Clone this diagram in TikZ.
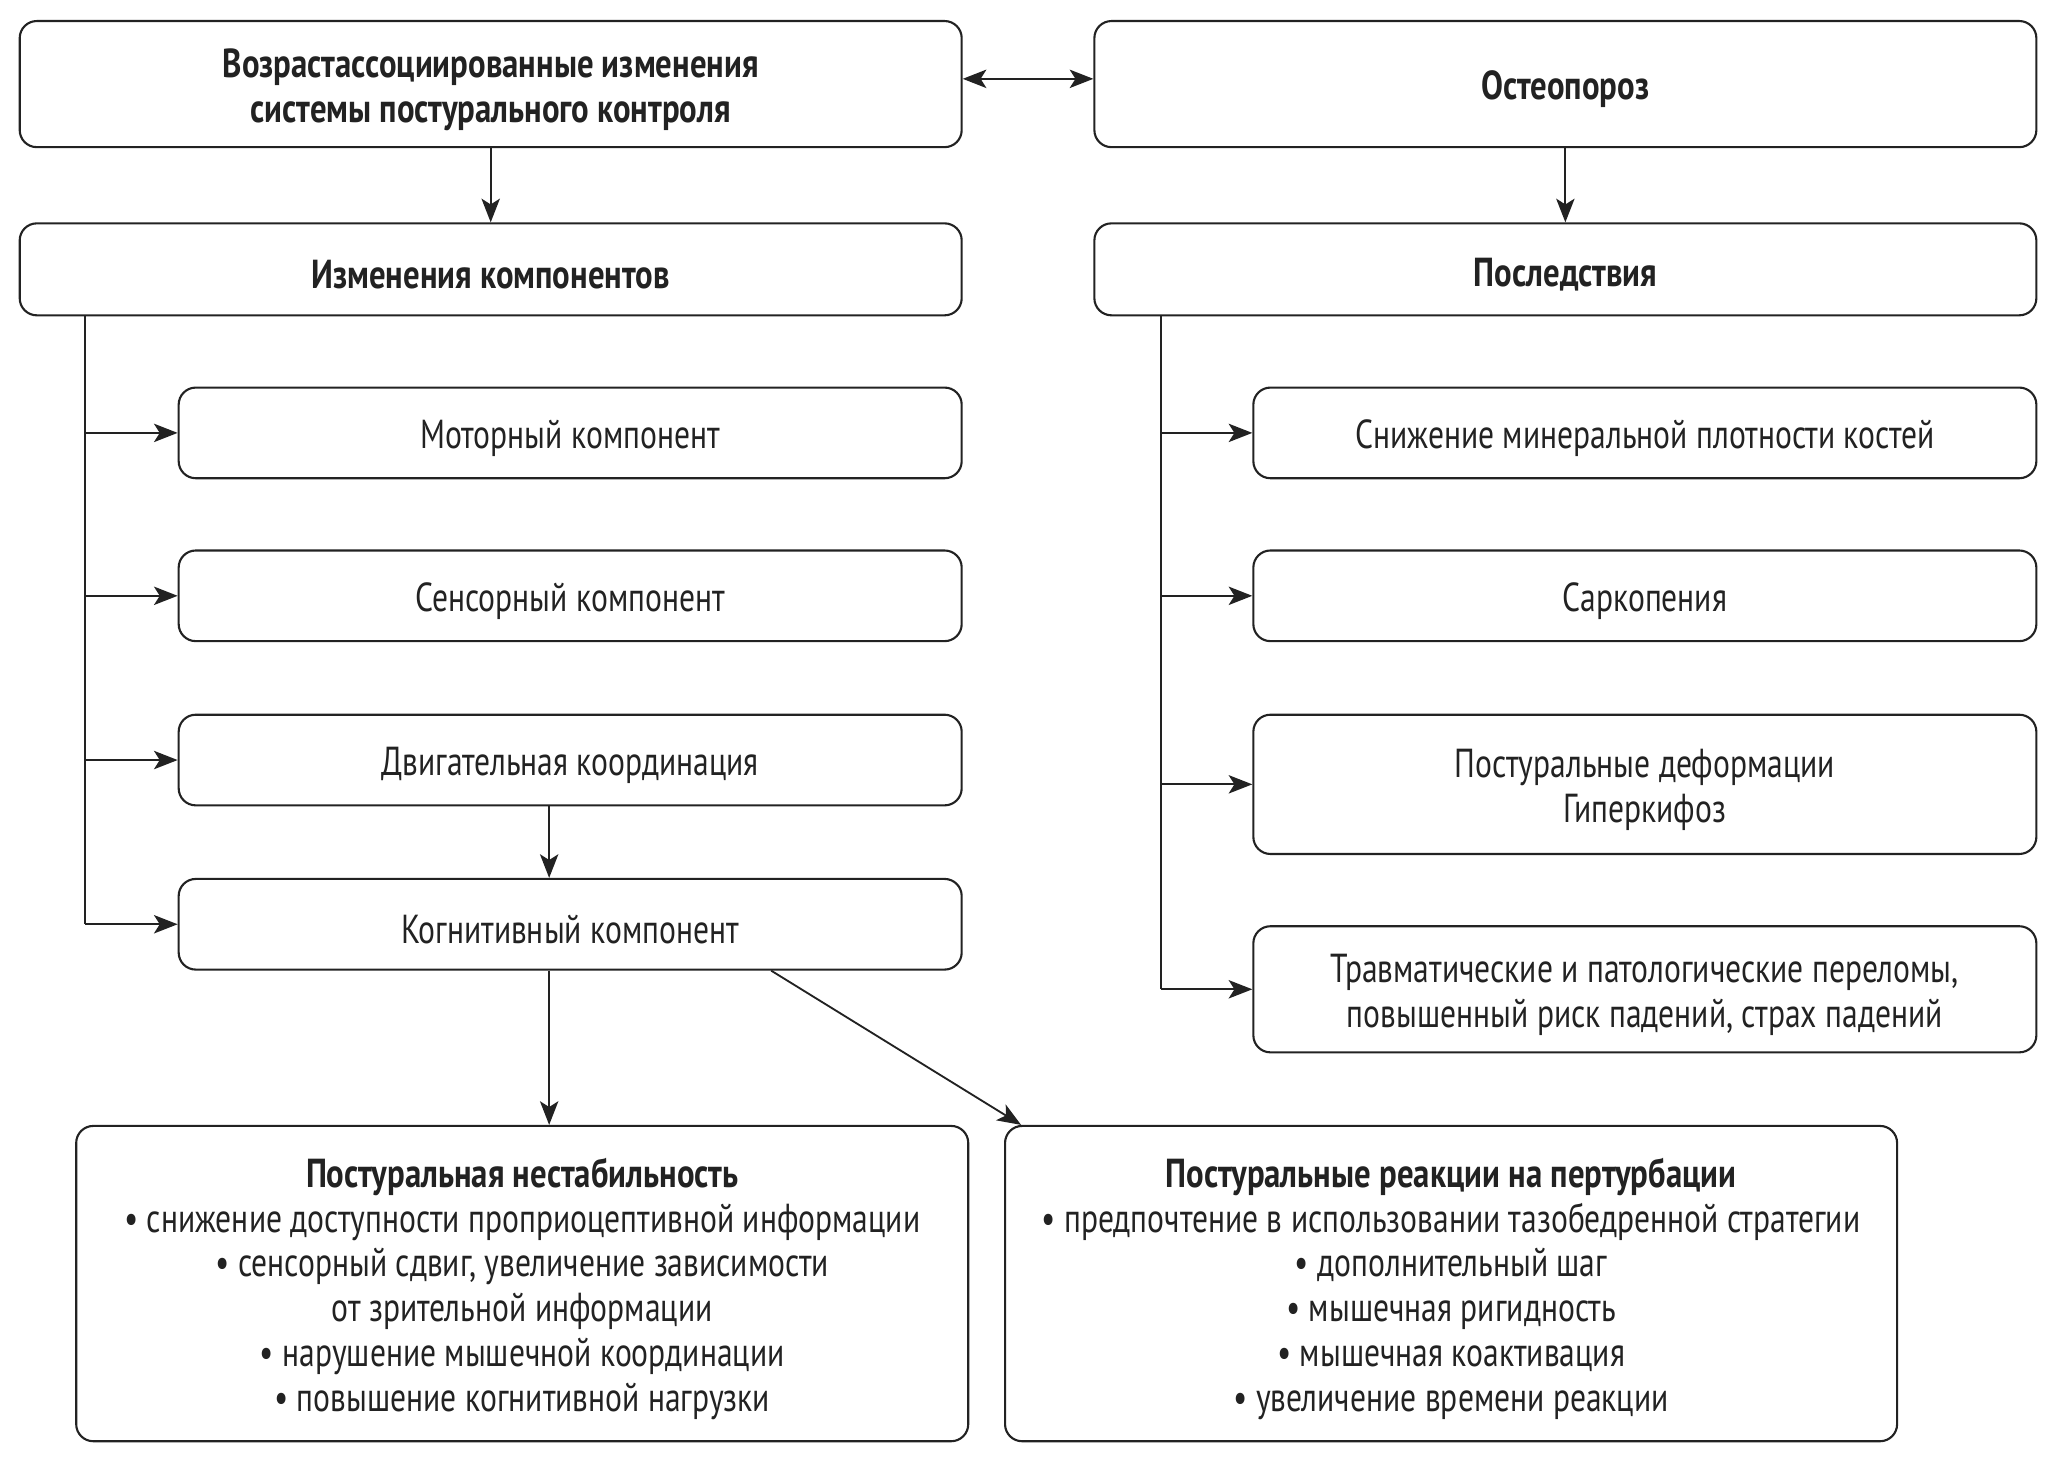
\documentclass[tikz,border=0pt]{standalone}
\usepackage{fontspec}
\setmainfont{PT Sans}[FakeStretch=0.78]
\newfontfamily\headfont{PT Sans}[FakeStretch=0.81]
\usetikzlibrary{arrows.meta,calc}
\definecolor{ink}{HTML}{222222}
\tikzset{
  box/.style={draw=ink, line width=0.8pt, rounded corners=6.5pt, inner sep=0pt},
  txt/.style={align=center, text=ink, inner sep=0pt, font=\fontsize{15.4}{17.1}\selectfont},
  btxt/.style={txt, font=\fontsize{15.4}{17.1}\selectfont\headfont\bfseries},
  wide/.style={minimum width=358.5pt},
  mid/.style={minimum width=298pt},
  big/.style={minimum width=339.5pt, minimum height=120pt},
  conn/.style={draw=ink, line width=0.7pt},
  tip/.tip={Stealth[length=9pt,width=7pt,inset=2.2pt]},
  arr/.style={conn, -tip},
  darr/.style={conn, tip-tip}
}
\begin{document}
\begin{tikzpicture}[x=0.5pt,y=-0.5pt]
\useasboundingbox[fill=white] (0,0) rectangle (1568,1116);
\node[box, wide, minimum height=48pt] (A) at (373.5,64) {};
\node[btxt] (A-t) at ([yshift=-2pt]A.center) {Возрастассоциированные изменения\\системы постурального контроля};
\node[box, wide, minimum height=48pt] (B) at (1191.5,64) {};
\node[btxt] (B-t) at ([yshift=-2pt]B.center) {Остеопороз};
\node[box, wide, minimum height=35pt] (C) at (373.5,205) {};
\node[btxt] (C-t) at ([yshift=-2pt]C.center) {Изменения компонентов};
\node[box, wide, minimum height=35pt] (D) at (1191.5,205) {};
\node[btxt] (D-t) at ([yshift=-2pt]D.center) {Последствия};

\node[box, mid, minimum height=34.5pt] (E1) at (434,329.5) {};
\node[txt] (E1-t) at ([yshift=-2pt]E1.center) {Моторный компонент};
\node[box, mid, minimum height=34.5pt] (E2) at (434,453.5) {};
\node[txt] (E2-t) at ([yshift=-2pt]E2.center) {Сенсорный компонент};
\node[box, mid, minimum height=34.5pt] (E3) at (434,578.5) {};
\node[txt] (E3-t) at ([yshift=-2pt]E3.center) {Двигательная координация};
\node[box, mid, minimum height=34.5pt] (E4) at (434,703.5) {};
\node[txt] (E4-t) at ([yshift=-2pt]E4.center) {Когнитивный компонент};

\node[box, mid, minimum height=34.5pt] (R1) at (1252,329.5) {};
\node[txt] (R1-t) at ([yshift=-2pt]R1.center) {Снижение минеральной плотности костей};
\node[box, mid, minimum height=34.5pt] (R2) at (1252,453.5) {};
\node[txt] (R2-t) at ([yshift=-2pt]R2.center) {Саркопения};
\node[box, mid, minimum height=53pt] (R3) at (1252,597) {};
\node[txt] (R3-t) at ([yshift=-2pt]R3.center) {Постуральные деформации\\Гиперкифоз};
\node[box, mid, minimum height=48pt] (R4) at (1252,753) {};
\node[txt] (R4-t) at ([yshift=-2pt]R4.center) {Травматические и патологические переломы,\\повышенный риск падений, страх падений};

\node[box, big] (F) at (397.5,977) {};
\node[txt] (F-t) at ([yshift=-2pt]F.center) {{\headfont\bfseries Постуральная нестабильность}\\
• снижение доступности проприоцептивной информации\\
• сенсорный сдвиг, увеличение зависимости\\
от зрительной информации\\
• нарушение мышечной координации\\
• повышение когнитивной нагрузки};
\node[box, big] (G) at (1104.5,977) {};
\node[txt] (G-t) at ([yshift=-2pt]G.center) {{\headfont\bfseries Постуральные реакции на пертурбации}\\
• предпочтение в использовании тазобедренной стратегии\\
• дополнительный шаг\\
• мышечная ригидность\\
• мышечная коактивация\\
• увеличение времени реакции};

\coordinate (tl) at (65,0);
\coordinate (tr) at (884,0);
\coordinate (ax) at (418,0);
\coordinate (dx) at (587,0);
\coordinate (dy) at (0,60);

\draw[darr] (A.east |- dy) -- (B.west |- dy);
\draw[arr] (A.south) -- (C.north);
\draw[arr] (B.south) -- (D.north);

\draw[conn] (C.south -| tl) -- (tl |- E4.west);
\foreach \n in {E1,E2,E3,E4} \draw[arr] (tl |- \n.west) -- (\n.west);
\draw[conn] (D.south -| tr) -- (tr |- R4.west);
\foreach \n in {R1,R2,R3,R4} \draw[arr] (tr |- \n.west) -- (\n.west);

\draw[arr] (E3.south -| ax) -- (E4.north -| ax);
\draw[arr] (E4.south -| ax) -- (F.north -| ax);
\draw[arr] (E4.south -| dx) -- ($(G.north west)+(13,0)$);
\end{tikzpicture}
\end{document}
